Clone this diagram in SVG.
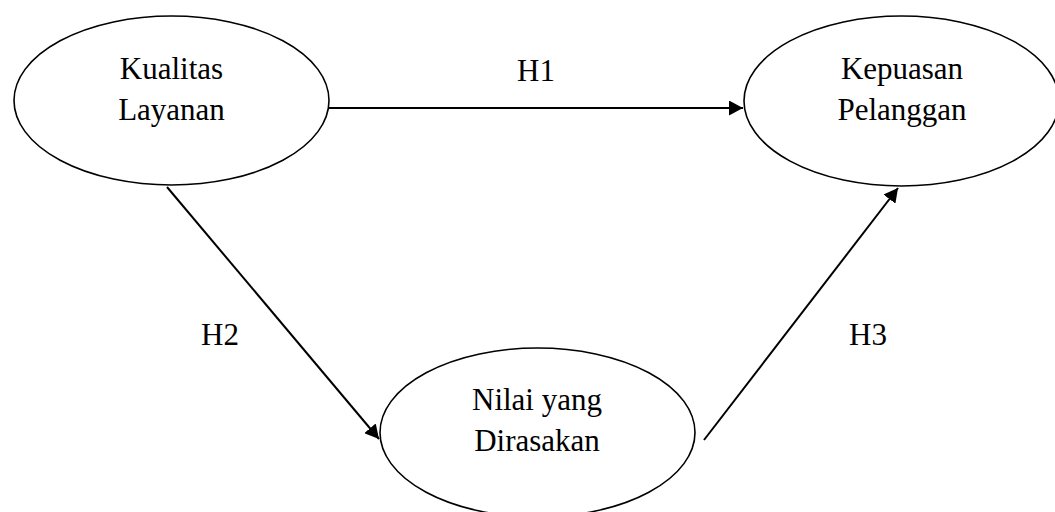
<svg xmlns="http://www.w3.org/2000/svg" width="1055" height="512" viewBox="0 0 1055 512">
  <style>
    .node ellipse { fill: #fff; stroke: #000; stroke-width: 1.6; }
    .label { font-family: "Liberation Serif", "Times New Roman", serif; font-size: 31px; fill: #000; text-anchor: middle; }
    .edge { stroke: #000; stroke-width: 2; fill: none; }
  </style>
  <defs>
    <marker id="arrow" markerWidth="14" markerHeight="15" refX="14" refY="7.5" orient="auto" markerUnits="userSpaceOnUse">
      <path d="M0,0 L14,7.5 L0,15 Z" fill="#000"/>
    </marker>
  </defs>

  <rect width="1055" height="512" fill="#fff"/>

  <!-- connectors -->
  <g id="connectors">
    <line class="edge" x1="329" y1="108" x2="743" y2="108" marker-end="url(#arrow)"/>
    <line class="edge" x1="167" y1="187" x2="379" y2="439" marker-end="url(#arrow)"/>
    <line class="edge" x1="704" y1="440" x2="898" y2="188" marker-end="url(#arrow)"/>
    <text class="label" x="536" y="81">H1</text>
    <text class="label" x="220" y="345">H2</text>
    <text class="label" x="868" y="345">H3</text>
  </g>

  <!-- nodes -->
  <g id="kualitas-layanan" class="node">
    <ellipse cx="171.5" cy="100.5" rx="157.5" ry="84.5"/>
    <text class="label" x="171.5" y="79">Kualitas</text>
    <text class="label" x="171.5" y="120">Layanan</text>
  </g>

  <g id="kepuasan-pelanggan" class="node">
    <ellipse cx="901.5" cy="101" rx="157.5" ry="85"/>
    <text class="label" x="902" y="79">Kepuasan</text>
    <text class="label" x="902" y="120">Pelanggan</text>
  </g>

  <g id="nilai-yang-dirasakan" class="node">
    <ellipse cx="537.5" cy="432.5" rx="157.5" ry="84.5"/>
    <text class="label" x="537" y="410">Nilai yang</text>
    <text class="label" x="537" y="451">Dirasakan</text>
  </g>
</svg>
